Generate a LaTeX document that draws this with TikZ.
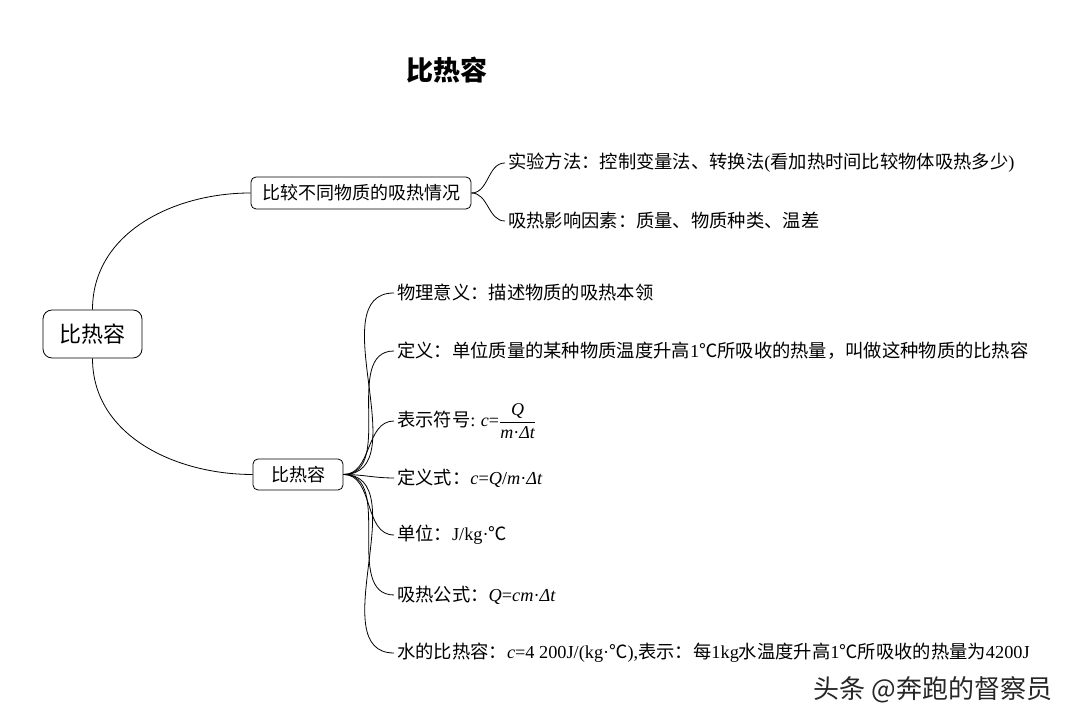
\documentclass[tikz,border=0pt]{standalone}
\usepackage{fontspec}
\setmainfont{Liberation Serif}
\newfontfamily\cjk{Noto Sans CJK SC}
\usetikzlibrary{positioning}

\newcommand{\lat}[1]{{\rmfamily #1}}
\newcommand{\var}[1]{{\rmfamily\itshape #1}}

\tikzset{
  knoten/.style={draw,black,rounded corners=5pt,line width=0.8pt,inner sep=0pt,
    font=\cjk\fontsize{18}{20}\selectfont},
  blatt/.style={anchor=west,inner xsep=3pt,inner ysep=0pt,
    font=\cjk\fontsize{18.3}{20}\selectfont},
  zweig/.style={line width=0.8pt}
}

\begin{document}
\begin{tikzpicture}[x=1pt,y=1pt]
\useasboundingbox (0,0) rectangle (1080,727);

% titel
\node[font=\cjk\bfseries\fontsize{27}{30}\selectfont](titel) at (447,657){比热容};

% wurzel und aeste
\node[knoten,rounded corners=9pt,minimum width=99pt,minimum height=48pt,
  font=\cjk\fontsize{22}{24}\selectfont](wurzel) at (92.5,393){比热容};
\node[knoten,minimum width=220pt,minimum height=32pt](vergleich) at (361,534){比较不同物质的吸热情况};
\node[knoten,minimum width=90pt,minimum height=31pt](begriff) at (298,252.5){比热容};

\draw[zweig] (wurzel.north) to[out=90,in=180] (vergleich.west);
\draw[zweig] (wurzel.south) to[out=-90,in=180] (begriff.west);

% blaetter oben
\node[blatt](methode) at (505,564){实验方法：控制变量法、转换法\lat{(}看加热时间比较物体吸热多少\lat{)}};
\node[blatt](faktor) at (505,506){吸热影响因素：质量、物质种类、温差};

\foreach \z in {methode,faktor}
  \draw[zweig] (vergleich.east) to[out=0,in=180] (\z.west);

% blaetter unten
\node[blatt](sinn) at (394,434){物理意义：描述物质的吸热本领};
\node[blatt](defi) at (394,376){定义：单位质量的某种物质温度升高\lat{1}℃所吸收的热量，叫做这种物质的比热容};
\node[blatt](zeichen) at (394,306){表示符号\lat{:} {\fontsize{18}{20}\selectfont\var{c}\lat{=}$\displaystyle\frac{\hbox{\var{Q}}}{\hbox{\var{m}\lat{·}\var{Δt}}}$}};
\node[blatt](formel) at (394,249){定义式：\var{c}\lat{=}\var{Q}\lat{/}\var{m}\lat{·}\var{Δt}};
\node[blatt](einheit) at (394,192){单位：\lat{J/kg·}℃};
\node[blatt](waerme) at (394,132){吸热公式：\var{Q}\lat{=}\var{cm}\lat{·}\var{Δt}};
\node[blatt](wasser) at (394,74){水的比热容：\var{c}\lat{=4 200J/(kg·}℃\lat{),}表示：每\lat{1kg}水温度升高\lat{1}℃所吸收的热量为\lat{4200J}};

\foreach \z in {sinn,defi,zeichen,formel,einheit,waerme,wasser}
  \draw[zweig] (begriff.east) to[out=0,in=180] (\z.west);

% wasserzeichen
\node[font=\cjk\fontsize{26}{28}\selectfont,text=black!85](zeichenname) at (933,37){头条 @奔跑的督察员};

\end{tikzpicture}
\end{document}
